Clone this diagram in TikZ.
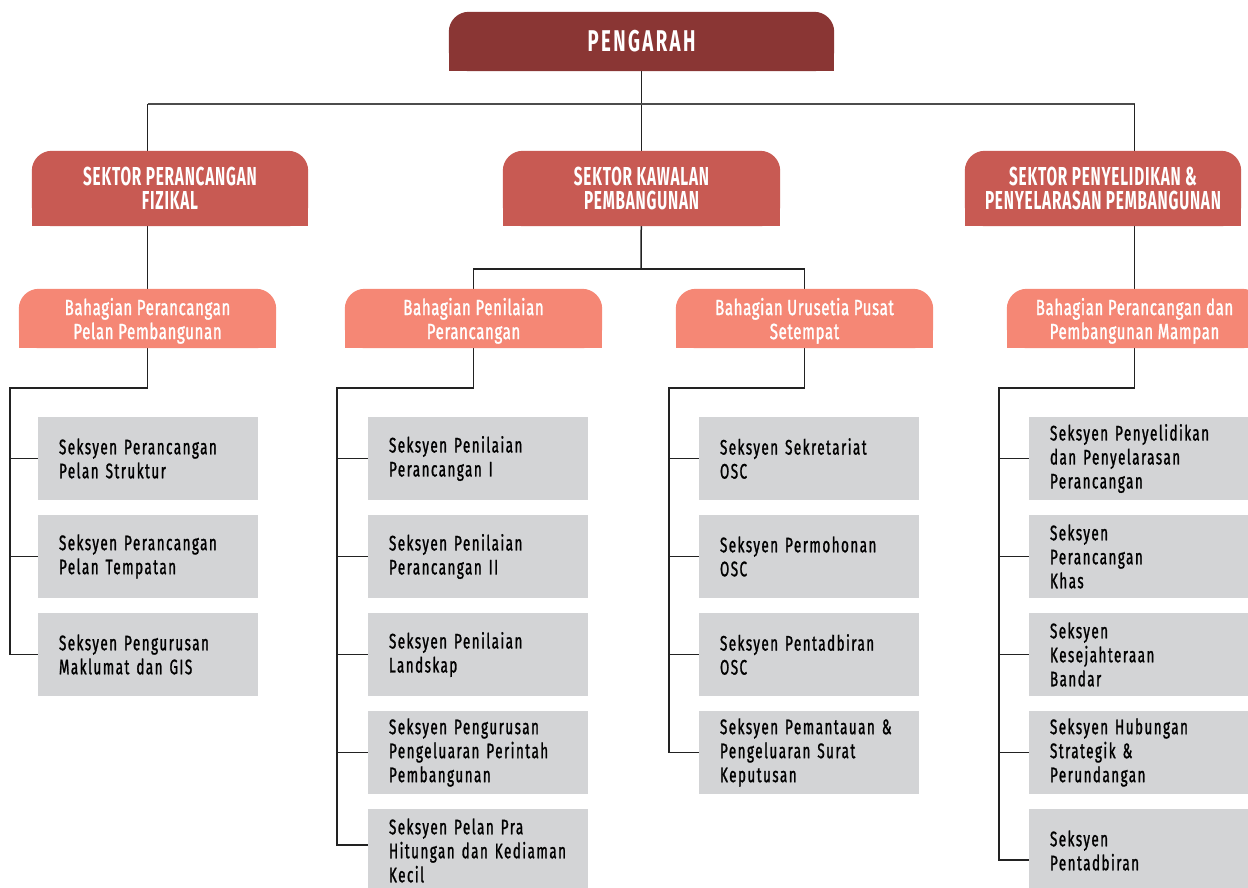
\documentclass[tikz,border=0pt]{standalone}
\usepackage{fontspec}
\newfontfamily\fhead{Fira Sans}[FakeStretch=0.59, LetterSpace=3]
\newfontfamily\ftop{Fira Sans}[FakeStretch=0.62, LetterSpace=8]
\newfontfamily\fdiv{Fira Sans}[FakeStretch=0.68, LetterSpace=3, FakeBold=1.4]
\newfontfamily\fsec{Fira Sans}[FakeStretch=0.64, LetterSpace=7, FakeBold=1.2]
\usetikzlibrary{calc}
\definecolor{cdir}{HTML}{8A3634}
\definecolor{csec}{HTML}{C85A53}
\definecolor{cdiv}{HTML}{F58775}
\definecolor{cgray}{HTML}{D3D4D6}
\definecolor{cline}{HTML}{222222}
\pgfdeclarelayer{lines}
\pgfdeclarelayer{fills}
\pgfsetlayers{lines,fills,main}
\newcommand\rtop[2]{%
  \begin{pgfonlayer}{fills}
  \fill[#2,rounded corners=20pt] (#1.south west) rectangle (#1.north east);
  \fill[#2] (#1.south west) rectangle (#1.east);
  \end{pgfonlayer}}
\newcommand\sqbox[1]{%
  \begin{pgfonlayer}{fills}
  \fill[cgray] (#1.south west) rectangle (#1.north east);
  \end{pgfonlayer}}
\tikzset{
  dirbox/.style={minimum width=385pt, minimum height=59pt, inner sep=0pt, text=white,
    font=\ftop\bfseries\fontsize{30}{30}\selectfont},
  secbox/.style={minimum width=276pt, minimum height=75pt, inner sep=0pt, text=white, align=center,
    font=\fhead\bfseries\fontsize{26}{24}\selectfont},
  divbox/.style={minimum width=257pt, minimum height=59pt, inner ysep=0pt, inner xsep=0pt,
    text=white, align=center, text depth=0pt,
    font=\fdiv\fontsize{22}{24}\selectfont},
  grbox/.style={minimum height=83pt, text width=178pt, inner xsep=21pt, inner ysep=0pt,
    align=left, text=black, font=\fsec\fontsize{21}{24}\selectfont},
  conn/.style={draw=cline, line width=1.5pt},
  hub/.style={draw=black!70, line width=2pt}
}
\begin{document}
\begin{tikzpicture}[x=1pt,y=-1pt]
\useasboundingbox (0,0) rectangle (1248,887);
% top
\node[dirbox] (p) at (641.5,41.5) {PENGARAH};
\rtop{p}{cdir}
% sectors
\node[secbox] (s1) at (170,188.5) {SEKTOR PERANCANGAN\\FIZIKAL};
\node[secbox, minimum width=277pt] (s2) at (641.5,188.5) {SEKTOR KAWALAN\\PEMBANGUNAN};
\node[secbox] (s3) at (1103,188.5) {SEKTOR PENYELIDIKAN \&\\PENYELARASAN PEMBANGUNAN};
\rtop{s1}{csec}\rtop{s2}{csec}\rtop{s3}{csec}
% divisions
\node[divbox] (b1) at (147.5,318.5) {Bahagian Perancangan\\Pelan Pembangunan};
\node[divbox] (b2) at (473.5,318.5) {Bahagian Penilaian\\Perancangan};
\node[divbox] (b3) at (804.5,318.5) {Bahagian Urusetia Pusat\\Setempat};
\node[divbox, minimum width=255pt] (b4) at (1134.5,318.5) {Bahagian Perancangan dan\\Pembangunan Mampan};
\rtop{b1}{cdiv}\rtop{b2}{cdiv}\rtop{b3}{cdiv}\rtop{b4}{cdiv}
% sections col 1
\node[grbox] (g11) at (148,458.5) {Seksyen Perancangan\\Pelan Struktur};
\node[grbox] (g12) at (148,556.5) {Seksyen Perancangan\\Pelan Tempatan};
\node[grbox] (g13) at (148,654.5) {Seksyen Pengurusan\\Maklumat dan GIS};
% col 2
\node[grbox] (g21) at (478,458.5) {Seksyen Penilaian\\Perancangan I};
\node[grbox] (g22) at (478,556.5) {Seksyen Penilaian\\Perancangan II};
\node[grbox] (g23) at (478,654.5) {Seksyen Penilaian\\Landskap};
\node[grbox] (g24) at (478,752.5) {Seksyen Pengurusan\\Pengeluaran Perintah\\Pembangunan};
\node[grbox] (g25) at (478,850.5) {Seksyen Pelan Pra\\Hitungan dan Kediaman\\Kecil};
% col 3
\node[grbox] (g31) at (809,458.5) {Seksyen Sekretariat\\OSC};
\node[grbox] (g32) at (809,556.5) {Seksyen Permohonan\\OSC};
\node[grbox] (g33) at (809,654.5) {Seksyen Pentadbiran\\OSC};
\node[grbox] (g34) at (809,752.5) {Seksyen Pemantauan \&\\Pengeluaran Surat\\Keputusan};
% col 4
\node[grbox] (g41) at (1139,458.5) {Seksyen Penyelidikan\\dan Penyelarasan\\Perancangan};
\node[grbox] (g42) at (1139,556.5) {Seksyen\\Perancangan\\Khas};
\node[grbox] (g43) at (1139,654.5) {Seksyen\\Kesejahteraan\\Bandar};
\node[grbox] (g44) at (1139,752.5) {Seksyen Hubungan\\Strategik \&\\Perundangan};
\node[grbox] (g45) at (1139,850.5) {Seksyen\\Pentadbiran};
\foreach \n in {g11,g12,g13,g21,g22,g23,g24,g25,g31,g32,g33,g34,g41,g42,g43,g44,g45}{\sqbox{\n}}
% junction coordinates
\coordinate (hubc) at (641,104);
\coordinate (midj) at (641,269);
\coordinate (r1) at (10,388);
\coordinate (r2) at (337,388);
\coordinate (r3) at (669,388);
\coordinate (r4) at (999,388);
\begin{pgfonlayer}{lines}
\draw[conn] (p.center) -- (s2.center);
\draw[hub] (b1.center |- hubc) -- (b4.center |- hubc);
\draw[conn] (b1.center |- hubc) -- (b1.center);
\draw[conn] (b4.center |- hubc) -- (b4.center);
\draw[conn] (s2.center) -- (midj);
\draw[conn] (b2.center) |- (midj) -| (b3.center);
% column 1
\draw[conn] (b1.center) |- (r1) |- (g13.west);
\foreach \g in {g11,g12}{\draw[conn] (r1 |- \g.west) -- (\g.west);}
% column 2
\draw[conn] (b2.center) |- (r2) |- ($(g25.west)+(0,-5.5)$);
\foreach \g in {g21,g22,g23,g24}{\draw[conn] (r2 |- \g.west) -- (\g.west);}
% column 3
\draw[conn] (b3.center) |- (r3) |- (g34.west);
\foreach \g in {g31,g32,g33}{\draw[conn] (r3 |- \g.west) -- (\g.west);}
% column 4
\draw[conn] (b4.center) |- (r4) |- ($(g45.west)+(0,9.5)$);
\foreach \g in {g41,g42,g43,g44}{\draw[conn] (r4 |- \g.west) -- (\g.west);}
\end{pgfonlayer}
\end{tikzpicture}
\end{document}
